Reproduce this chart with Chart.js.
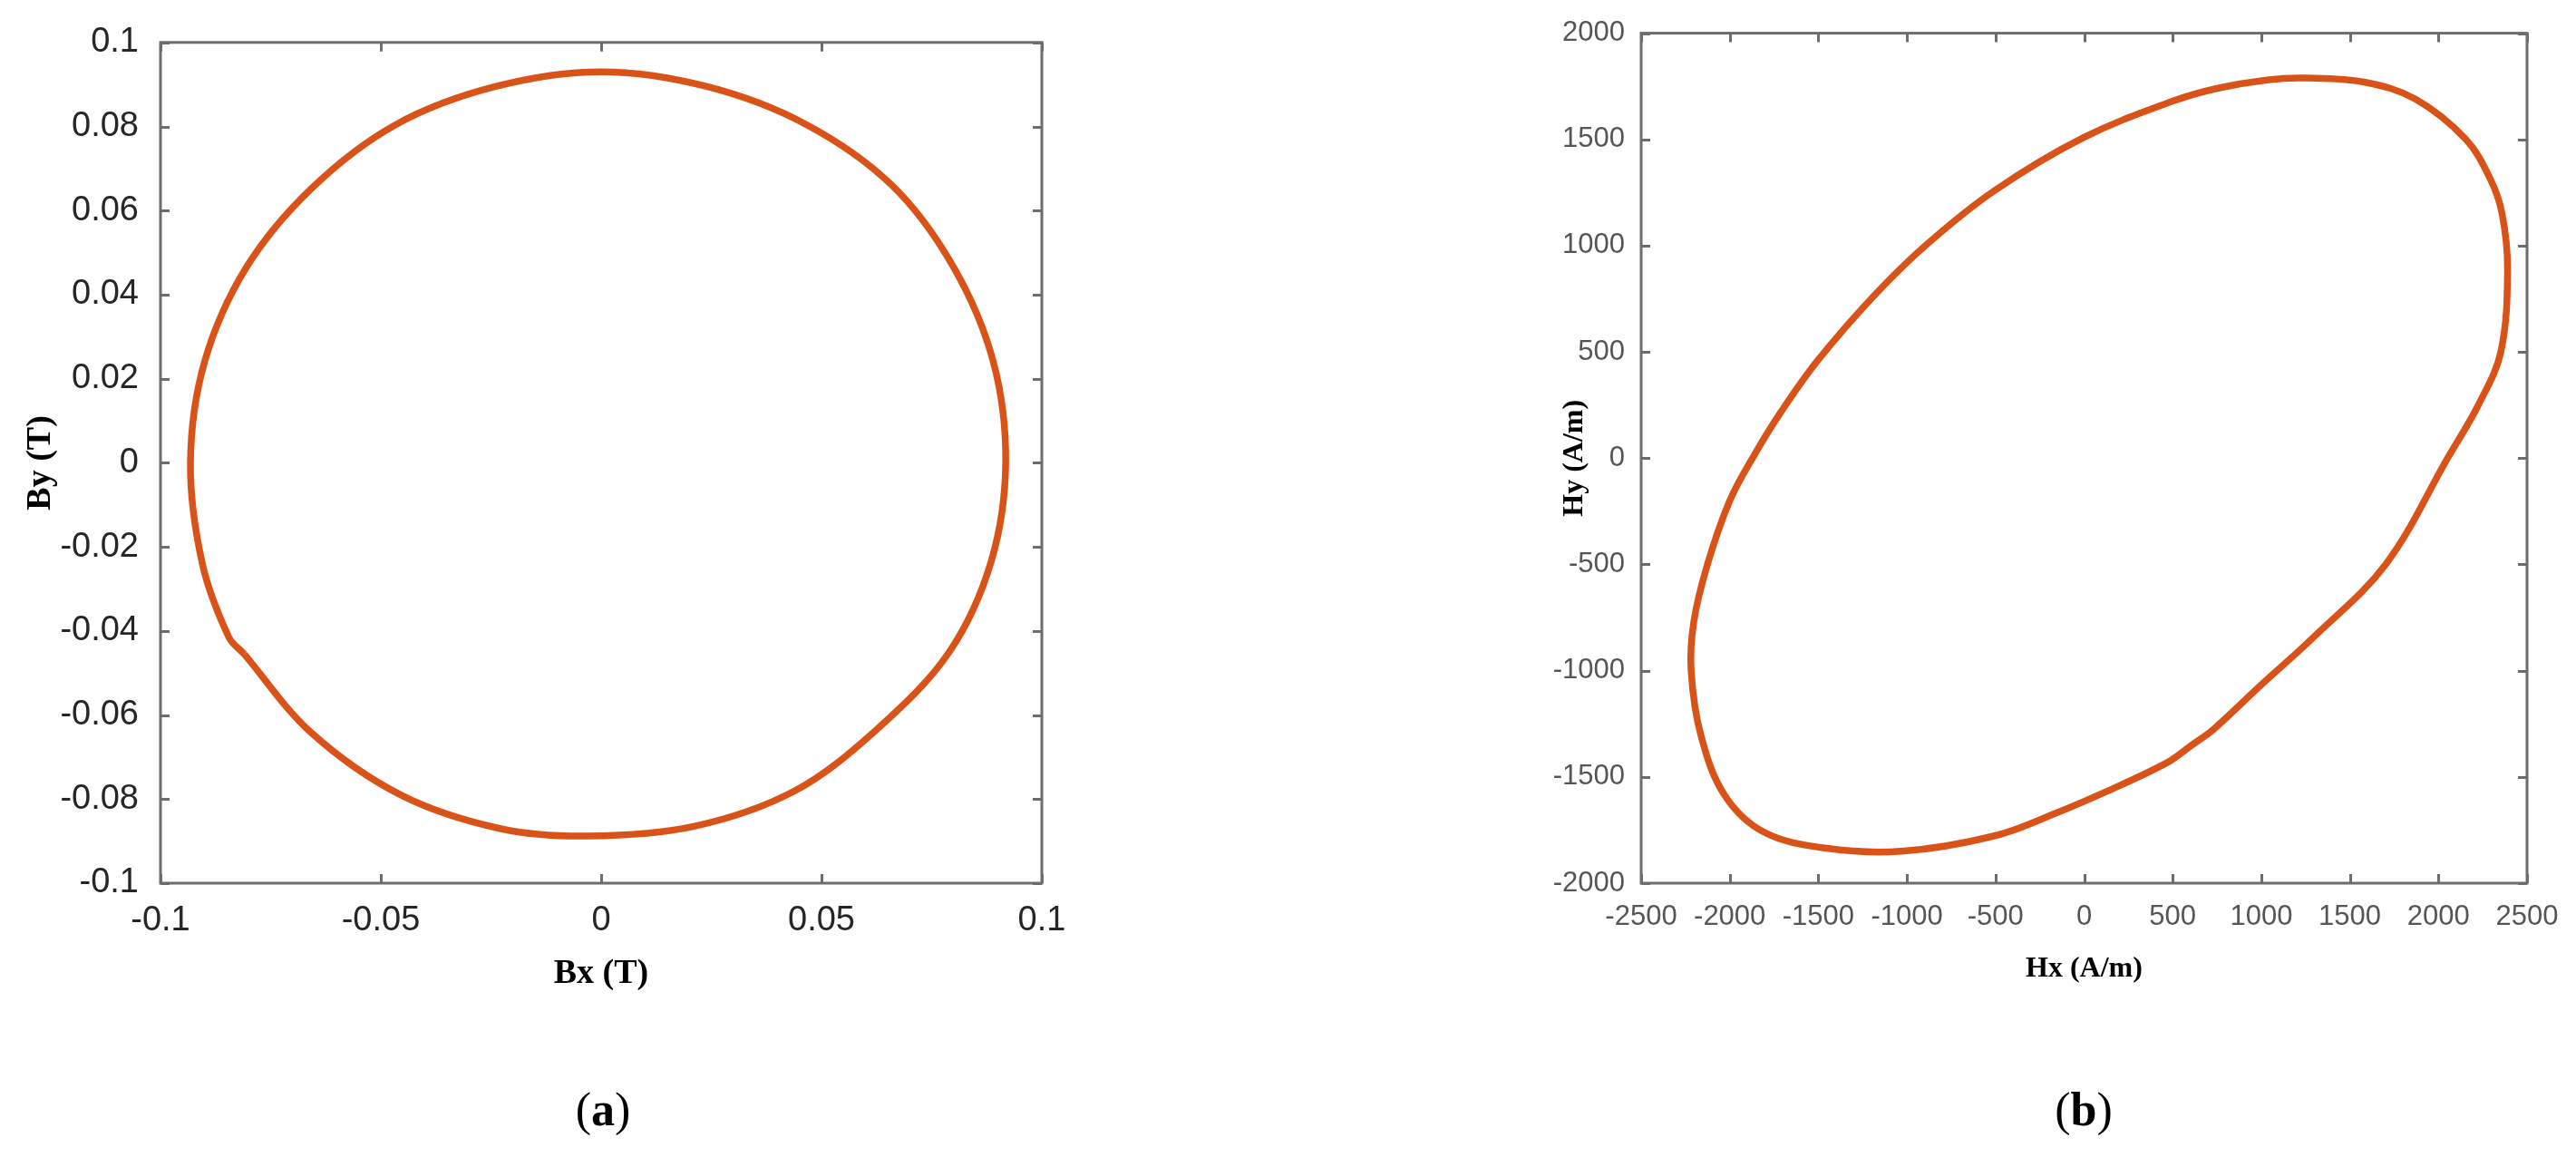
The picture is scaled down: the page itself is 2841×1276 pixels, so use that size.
<!DOCTYPE html>
<html>
<head>
<meta charset="utf-8">
<script src="https://cdn.jsdelivr.net/npm/chart.js@4.4.1/dist/chart.umd.min.js"></script>
<style>
  html, body { margin: 0; padding: 0; background: #ffffff; }
  body { width: 2841px; height: 1276px; position: relative; overflow: hidden; }
  canvas { position: absolute; top: 0; }
  #cA { left: 0; }
  #cB { left: 1420px; }
  .cap { position: absolute; top: 1194px; width: 200px; margin-left: -100px; text-align: center;
         font-family: "Liberation Serif", "Times New Roman", serif; font-size: 52px; color: #000; line-height: 60px; }
</style>
</head>
<body>
<canvas id="cA" width="1420" height="1276"></canvas>
<canvas id="cB" width="1421" height="1276"></canvas>
<div class="cap" style="left:665px">(<b>a</b>)</div>
<div class="cap" style="left:2298px">(<b>b</b>)</div>
<script>
// ---- (a) flux density locus (starts at the small notch, lower left) ----
const bxVals = [-0.0810, -0.0660, -0.0455, -0.0230, -0.0030, 0.0210, 0.0440, 0.0630, 0.0790, 0.0885, 0.0918,
                0.0890, 0.0800, 0.0660, 0.0465, 0.0240, 0.0000, -0.0240, -0.0465, -0.0655, -0.0805, -0.0900,
                -0.0932, -0.0905, -0.0845, -0.0810];
const byVals = [-0.0455, -0.0640, -0.0790, -0.0870, -0.0888, -0.0865, -0.0780, -0.0630, -0.0450, -0.0235, 0.0000,
                0.0240, 0.0465, 0.0660, 0.0805, 0.0895, 0.0930, 0.0895, 0.0805, 0.0655, 0.0465, 0.0240,
                0.0000, -0.0240, -0.0415, -0.0455];
const bTickVals = [-0.1, -0.08, -0.06, -0.04, -0.02, 0, 0.02, 0.04, 0.06, 0.08, 0.1];
const bTickLabels = ['-0.1', '-0.08', '-0.06', '-0.04', '-0.02', '0', '0.02', '0.04', '0.06', '0.08', '0.1'];
const bxTickVals = [-0.1, -0.05, 0, 0.05, 0.1];
const bxTickLabels = ['-0.1', '-0.05', '0', '0.05', '0.1'];

// ---- (b) field strength locus (starts at the small kink, lower right) ----
const hxVals = [600, 729, 990, 1297, 1702, 2055, 2225, 2352, 2390, 2358, 2292, 2155, 1870, 1580, 1251, 1031, 750, 500, 0,
                -504, -888, -1185, -1507, -1712, -1860, -2000, -2126, -2203, -2218, -2162, -2029, -1809, -1461, -1031,
                -499, -146, 115, 468, 600];
const hyVals = [-1355, -1277, -1074, -841, -500, 5, 250, 500, 890, 1155, 1315, 1500, 1690, 1770, 1789, 1780, 1740, 1680, 1510,
                1260, 1006, 765, 456, 216, 17, -200, -500, -770, -1000, -1307, -1586, -1759, -1835, -1850,
                -1776, -1666, -1573, -1433, -1355];
const hxTickVals = [-2500, -2000, -1500, -1000, -500, 0, 500, 1000, 1500, 2000, 2500];
const hxTickLabels = ['-2500', '-2000', '-1500', '-1000', '-500', '0', '500', '1000', '1500', '2000', '2500'];
const hyTickVals = [-2000, -1500, -1000, -500, 0, 500, 1000, 1500, 2000];
const hyTickLabels = ['-2000', '-1500', '-1000', '-500', '0', '500', '1000', '1500', '2000'];

const lineColor = '#D95319';

const framePlugin = {
  id: 'frame',
  afterDatasetsDraw(chart, args, opts) {
    const { ctx, chartArea: a, scales: { x, y } } = chart;
    const L = opts.tick;
    ctx.save();
    ctx.strokeStyle = opts.color;
    ctx.lineWidth = opts.width;
    ctx.beginPath();
    x.ticks.forEach(t => {
      const px = Math.round(x.getPixelForValue(t.value)) + 0.5;
      ctx.moveTo(px, a.bottom); ctx.lineTo(px, a.bottom - L);
      ctx.moveTo(px, a.top); ctx.lineTo(px, a.top + L);
    });
    y.ticks.forEach(t => {
      const py = Math.round(y.getPixelForValue(t.value)) + 0.5;
      ctx.moveTo(a.left, py); ctx.lineTo(a.left + L, py);
      ctx.moveTo(a.right, py); ctx.lineTo(a.right - L, py);
    });
    ctx.stroke();
    ctx.strokeRect(a.left, a.top, a.right - a.left, a.bottom - a.top);
    ctx.restore();
  }
};

function makeChart(id, xs, ys, cfg) {
  const pts = xs.map((v, i) => ({ x: v, y: ys[i] }));
  return new Chart(document.getElementById(id), {
    type: 'scatter',
    data: { datasets: [{ data: pts, showLine: true, borderColor: lineColor, borderWidth: cfg.lw,
                         pointRadius: 0, tension: cfg.tension, fill: false, borderJoinStyle: 'round' }] },
    options: {
      responsive: false, animation: false, devicePixelRatio: 1,
      layout: { padding: cfg.pad },
      plugins: { legend: { display: false }, tooltip: { enabled: false },
                 frame: { color: cfg.axisColor, width: 3, tick: 10 } },
      scales: {
        x: {
          type: 'linear', min: cfg.xMin, max: cfg.xMax,
          grid: { display: false, drawTicks: false }, border: { display: false },
          afterBuildTicks: s => { s.ticks = cfg.xTicks.map(v => ({ value: v })); },
          afterFit: s => { s.height = cfg.xH; },
          ticks: { autoSkip: false, maxRotation: 0, padding: cfg.xPad, color: cfg.tickColor,
                   font: { family: cfg.tickFont, size: cfg.tickSize },
                   callback: (v, i) => cfg.xLabels[i] },
          title: { display: true, text: cfg.xTitle, color: '#000', padding: { top: 0, bottom: 0 },
                   font: { family: 'Liberation Serif', weight: 'bold', size: cfg.titleSize } }
        },
        y: {
          type: 'linear', min: cfg.yMin, max: cfg.yMax,
          grid: { display: false, drawTicks: false }, border: { display: false },
          afterBuildTicks: s => { s.ticks = cfg.yTicks.map(v => ({ value: v })); },
          afterFit: s => { s.width = cfg.yW; },
          ticks: { autoSkip: false, padding: cfg.yPad, color: cfg.tickColor,
                   font: { family: cfg.tickFont, size: cfg.tickSize },
                   callback: (v, i) => cfg.yLabels[i] },
          title: { display: true, text: cfg.yTitle, color: '#000', padding: { top: cfg.yTitlePad, bottom: 0 },
                   font: { family: 'Liberation Serif', weight: 'bold', size: cfg.titleSize } }
        }
      }
    },
    plugins: [framePlugin]
  });
}

makeChart('cA', bxVals, byVals, {
  lw: 7.5, tension: 0.34, pad: { left: 0, top: 44, right: 271, bottom: 179 },
  axisColor: '#6d6d6d', tickColor: '#262626', tickFont: '"Liberation Sans", Arial, sans-serif', tickSize: 38,
  xMin: -0.1, xMax: 0.1, yMin: -0.1, yMax: 0.1,
  xTicks: bxTickVals, xLabels: bxTickLabels, yTicks: bTickVals, yLabels: bTickLabels,
  xH: 123, yW: 177, xPad: 19, yPad: 24, yTitlePad: 22, titleSize: 38,
  xTitle: 'Bx (T)', yTitle: 'By (T)'
});

makeChart('cB', hxVals, hyVals, {
  lw: 7.5, tension: 0.36, pad: { left: 280, top: 28, right: 54, bottom: 188 },
  axisColor: '#6d6d6d', tickColor: '#555555', tickFont: '"Liberation Sans", Arial, sans-serif', tickSize: 31,
  xMin: -2500, xMax: 2500, yMin: -2000, yMax: 2000,
  xTicks: hxTickVals, xLabels: hxTickLabels, yTicks: hyTickVals, yLabels: hyTickLabels,
  xH: 114, yW: 110, xPad: 19, yPad: 18, yTitlePad: 18, titleSize: 32,
  xTitle: 'Hx (A/m)', yTitle: 'Hy (A/m)'
});
</script>
</body>
</html>
